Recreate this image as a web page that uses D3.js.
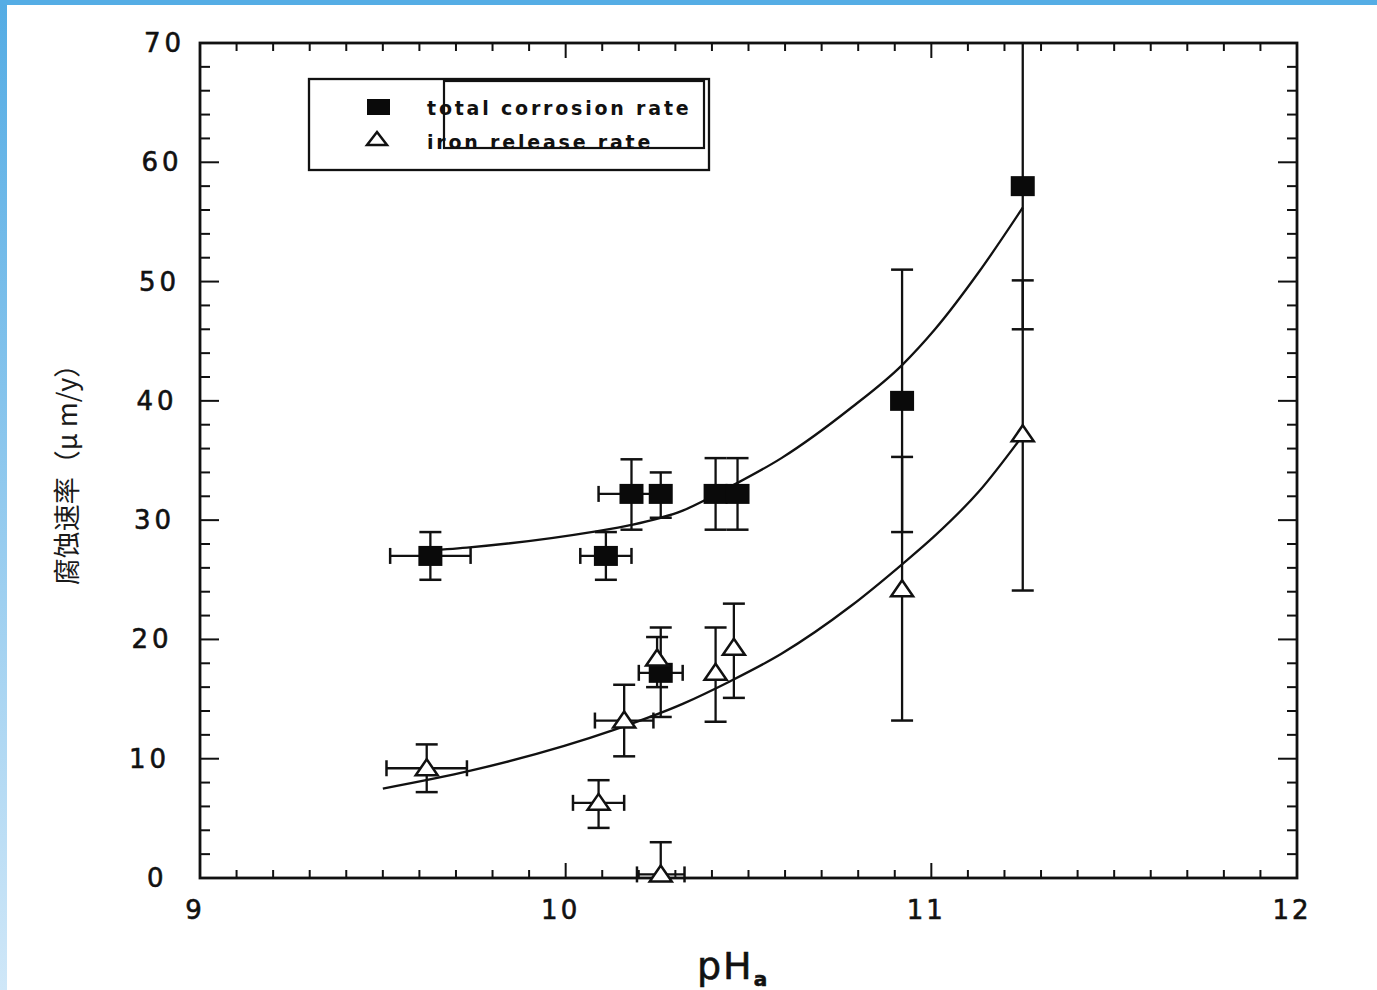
<!DOCTYPE html>
<html>
<head>
<meta charset="utf-8">
<script src="https://cdn.jsdelivr.net/npm/d3@7"></script>
<style>
  html, body { margin: 0; padding: 0; background: #fff; }
  svg { display: block; }
</style>
</head>
<body>
<svg id="chart" width="1377" height="990"></svg>
<script>
// total corrosion rate (filled squares)
var totalPH   = [9.63, 10.11, 10.18, 10.26, 10.41, 10.47, 10.26, 10.92, 11.25];
var totalVal  = [27.0, 27.0, 32.2, 32.2, 32.2, 32.2, 17.2, 40.0, 58.0];
var totalLo   = [25.0, 25.0, 29.2, 30.2, 29.2, 29.2, 13.5, 29.0, 46.0];
var totalHi   = [29.0, 29.0, 35.1, 34.0, 35.2, 35.2, 21.0, 51.0, 70.0];
var totalXErr = [0.11, 0.07, 0.09, 0, 0, 0, 0.06, 0, 0];

// iron release rate (open triangles)
var ironPH   = [9.62, 10.09, 10.16, 10.25, 10.41, 10.46, 10.92, 11.25, 10.26];
var ironVal  = [9.2, 6.3, 13.2, 18.4, 17.2, 19.3, 24.2, 37.2, 0.3];
var ironLo   = [7.2, 4.2, 10.2, 16.0, 13.1, 15.1, 13.2, 24.1, 0];
var ironHi   = [11.2, 8.2, 16.2, 20.2, 21.0, 23.0, 35.3, 50.1, 3.0];
var ironXErr = [0.11, 0.07, 0.08, 0, 0, 0, 0, 0, 0.065];

// fitted curves
var totalCurvePH  = [9.60, 9.73, 10.07, 10.18, 10.32, 10.45, 10.59, 10.78, 10.92, 11.01, 11.13, 11.25];
var totalCurveVal = [27.4, 27.7, 29.0, 29.6, 30.8, 32.8, 35.2, 39.4, 43.0, 46.0, 50.8, 56.2];
var ironCurvePH   = [9.50, 9.74, 10.13, 10.32, 10.45, 10.59, 10.78, 10.92, 11.01, 11.13, 11.25];
var ironCurveVal  = [7.5, 9.0, 12.4, 14.6, 16.5, 18.8, 22.8, 26.3, 28.7, 32.4, 37.1];

var xTicks = [9, 10, 11, 12];
var yTicks = [0, 10, 20, 30, 40, 50, 60, 70];
var legendLabels = ["total corrosion rate", "iron release rate"];

var svg = d3.select("#chart");

// scan frame: blue strips at top and left
var defs = svg.append("defs");
var grad = defs.append("linearGradient")
  .attr("id", "edge")
  .attr("x1", 0).attr("y1", 0).attr("x2", 0).attr("y2", 1);
grad.append("stop").attr("offset", "0%").attr("stop-color", "#54ace4");
grad.append("stop").attr("offset", "100%").attr("stop-color", "#cfe7f8");
svg.append("rect").attr("x", 0).attr("y", 0).attr("width", 7).attr("height", 990).attr("fill", "url(#edge)");
svg.append("rect").attr("x", 0).attr("y", 0).attr("width", 1377).attr("height", 5).attr("fill", "#55ade5");

var x = d3.scaleLinear().domain([9, 12]).range([200, 1297]);
var y = d3.scaleLinear().domain([0, 70]).range([878, 43]);

var g = svg.append("g");

// frame
g.append("rect")
  .attr("x", x(9)).attr("y", y(70))
  .attr("width", x(12) - x(9)).attr("height", y(0) - y(70))
  .attr("fill", "none").attr("stroke", "#111").attr("stroke-width", 2.8);

// inward ticks on all four sides
var xMinor = d3.range(91, 120).map(function(d) { return d / 10; });
var yMinor = d3.range(1, 35).map(function(d) { return d * 2; });

function tickLen(v, major, small, big) {
  return Math.abs(v - Math.round(v / major) * major) < 1e-6 ? big : small;
}

xMinor.forEach(function(v) {
  var l = tickLen(v, 1, 8, 15);
  g.append("line").attr("x1", x(v)).attr("x2", x(v)).attr("y1", y(0)).attr("y2", y(0) - l)
    .attr("stroke", "#111").attr("stroke-width", 2);
  g.append("line").attr("x1", x(v)).attr("x2", x(v)).attr("y1", y(70)).attr("y2", y(70) + l)
    .attr("stroke", "#111").attr("stroke-width", 2);
});
yMinor.forEach(function(v) {
  var l = tickLen(v, 10, 10, 19);
  g.append("line").attr("x1", x(9)).attr("x2", x(9) + l).attr("y1", y(v)).attr("y2", y(v))
    .attr("stroke", "#111").attr("stroke-width", 2);
  g.append("line").attr("x1", x(12)).attr("x2", x(12) - l).attr("y1", y(v)).attr("y2", y(v))
    .attr("stroke", "#111").attr("stroke-width", 2);
});

// tick labels
g.selectAll(".xl").data(xTicks).enter().append("text")
  .attr("x", function(d) { return x(d) - 5; })
  .attr("y", 919)
  .attr("text-anchor", "middle")
  .attr("font-family", "DejaVu Sans")
  .attr("font-size", 26)
  .attr("letter-spacing", 3)
  .attr("fill", "#111").attr("stroke", "#111").attr("stroke-width", 0.6)
  .text(function(d) { return d; });

g.selectAll(".yl").data(yTicks).enter().append("text")
  .attr("x", function(d) { return 185 - (70 - d) * 0.25; })
  .attr("y", function(d) { return y(d) + 9; })
  .attr("text-anchor", "end")
  .attr("font-family", "DejaVu Sans")
  .attr("font-size", 26)
  .attr("letter-spacing", 4)
  .attr("fill", "#111").attr("stroke", "#111").attr("stroke-width", 0.6)
  .text(function(d) { return d; });

// axis titles
var xt = g.append("text")
  .attr("x", 697).attr("y", 979)
  .attr("font-family", "DejaVu Sans")
  .attr("font-size", 38)
  .attr("letter-spacing", 2)
  .attr("fill", "#111").attr("stroke", "#111").attr("stroke-width", 0.6);
xt.append("tspan").text("pH");
xt.append("tspan").attr("font-size", 20).attr("font-weight", "bold").attr("dy", 7).text("a");

g.append("text")
  .attr("transform", "translate(77,468) rotate(-90)")
  .attr("text-anchor", "middle")
  .attr("font-family", "Noto Sans CJK SC")
  .attr("font-size", 27)
  .attr("fill", "#1a1a1a")
  .text("腐蚀速率（μ m/y）");

// fitted curves
var line = d3.line()
  .x(function(d) { return x(d[0]); })
  .y(function(d) { return y(d[1]); })
  .curve(d3.curveMonotoneX);

g.append("path")
  .attr("d", line(d3.zip(totalCurvePH, totalCurveVal)))
  .attr("fill", "none").attr("stroke", "#111").attr("stroke-width", 2.3);
g.append("path")
  .attr("d", line(d3.zip(ironCurvePH, ironCurveVal)))
  .attr("fill", "none").attr("stroke", "#111").attr("stroke-width", 2.3);

// error bars
function errorBars(ph, val, lo, hi, xe) {
  ph.forEach(function(p, i) {
    var cx = x(p), cy = y(val[i]);
    g.append("line").attr("x1", cx).attr("x2", cx).attr("y1", y(lo[i])).attr("y2", y(hi[i]))
      .attr("stroke", "#111").attr("stroke-width", 2.3);
    [lo[i], hi[i]].forEach(function(v) {
      if (v <= 0 || v >= 70) return;
      g.append("line").attr("x1", cx - 11).attr("x2", cx + 11).attr("y1", y(v)).attr("y2", y(v))
        .attr("stroke", "#111").attr("stroke-width", 2.5);
    });
    if (xe[i] > 0) {
      g.append("line").attr("x1", x(p - xe[i])).attr("x2", x(p + xe[i])).attr("y1", cy).attr("y2", cy)
        .attr("stroke", "#111").attr("stroke-width", 2.3);
      [p - xe[i], p + xe[i]].forEach(function(v) {
        g.append("line").attr("x1", x(v)).attr("x2", x(v)).attr("y1", cy - 8).attr("y2", cy + 8)
          .attr("stroke", "#111").attr("stroke-width", 2.5);
      });
    }
  });
}
errorBars(totalPH, totalVal, totalLo, totalHi, totalXErr);
errorBars(ironPH, ironVal, ironLo, ironHi, ironXErr);

// markers
var triPath = "M0,-9L11,7L-11,7Z";

g.selectAll(".sq").data(d3.zip(totalPH, totalVal)).enter().append("rect")
  .attr("x", function(d) { return x(d[0]) - 12; })
  .attr("y", function(d) { return y(d[1]) - 10; })
  .attr("width", 24).attr("height", 20)
  .attr("fill", "#0a0a0a");

g.selectAll(".tri").data(d3.zip(ironPH, ironVal)).enter().append("path")
  .attr("transform", function(d) { return "translate(" + x(d[0]) + "," + y(d[1]) + ")"; })
  .attr("d", triPath)
  .attr("fill", "#fff").attr("stroke", "#111").attr("stroke-width", 2.5);

// legend (two overlapping boxes as in the scan)
var leg = g.append("g");
leg.append("rect").attr("x", 309).attr("y", 79).attr("width", 400).attr("height", 91)
  .attr("fill", "#fff").attr("stroke", "#111").attr("stroke-width", 2.3);
leg.append("rect").attr("x", 444).attr("y", 81).attr("width", 260).attr("height", 67)
  .attr("fill", "none").attr("stroke", "#111").attr("stroke-width", 2.2);
leg.append("rect").attr("x", 367).attr("y", 99).attr("width", 23).attr("height", 16).attr("fill", "#0a0a0a");
leg.append("path").attr("transform", "translate(377,139)").attr("d", "M0,-7L10,6L-10,6Z")
  .attr("fill", "#fff").attr("stroke", "#111").attr("stroke-width", 2.5);
leg.selectAll(".lt").data(legendLabels).enter().append("text")
  .attr("x", 427)
  .attr("y", function(d, i) { return 115 + i * 34; })
  .attr("font-family", "DejaVu Sans")
  .attr("font-weight", "bold")
  .attr("font-size", 19)
  .attr("letter-spacing", 2.8)
  .attr("fill", "#111")
  .text(function(d) { return d; });
</script>
</body>
</html>
